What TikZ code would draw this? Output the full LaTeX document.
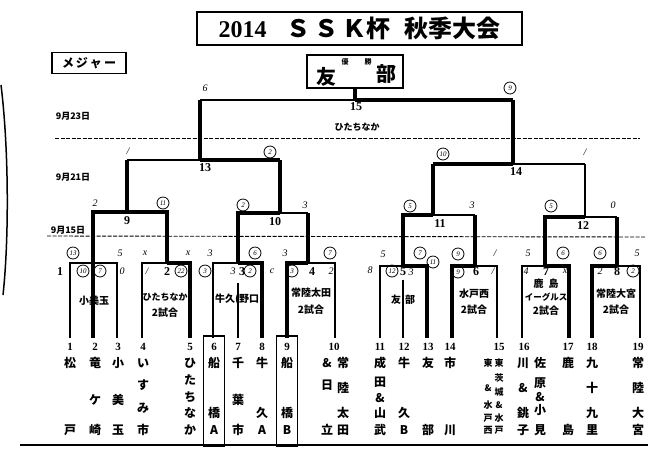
\documentclass[tikz,border=0pt]{standalone}
\usepackage{fontspec}
\setmainfont{Liberation Serif}
\newfontfamily\jp{Noto Sans CJK JP}
\begin{document}
\begin{tikzpicture}[x=1pt,y=-1pt,
  lnthin/.style={line width=1.2pt},
  lnmed/.style={line width=2pt},
  lnwin/.style={line width=3.2pt},
  sepline/.style={line width=0.9pt, dash pattern=on 4pt off 1.5pt},
  tnum/.style={font=\bfseries\fontsize{11}{11}\selectfont, inner sep=0},
  mlab/.style={font=\bfseries\fontsize{12}{12}\selectfont, inner sep=0},
  tch/.style={font=\jp\bfseries\fontsize{12}{12}\selectfont, inner sep=0},
  tchs/.style={font=\jp\bfseries\fontsize{9}{9}\selectfont, inner sep=0},
  hnd/.style={font=\itshape\fontsize{10}{10}\selectfont, inner sep=0},
  cir/.style={circle, draw, line width=0.8pt, inner sep=0.2pt, minimum size=12pt, font=\itshape\fontsize{7}{7}\selectfont},
  lbl/.style={font=\jp\bfseries\fontsize{10}{10}\selectfont, inner sep=0.5pt},
  datelbl/.style={font=\jp\bfseries\fontsize{9}{9}\selectfont, inner sep=0}]
\useasboundingbox (0,0) rectangle (667,451);
\fill[white] (0,0) rectangle (667,451);

% title
\node[draw, line width=1.3pt, minimum width=325pt, minimum height=33pt, inner sep=0] (title) at (359.5,28.5) {};
\node[font=\bfseries\fontsize{24}{24}\selectfont, inner sep=0] (titletxt) at (title.center) {2014\hspace{20pt}{\jp\bfseries Ｓ\hspace{4pt}Ｓ\hspace{4pt}Ｋ杯\hspace{14pt}秋季大会}};

% major label
\node[draw, line width=1.2pt, minimum width=74pt, minimum height=21pt, inner sep=0] (major) at (89,63) {};
\node[font=\jp\bfseries\fontsize{12}{12}\selectfont, inner sep=0] (majortxt) at (major.center) {メ\,ジ\,ャ\,ー};

% champion box
\node[draw, line width=1.3pt, minimum width=96pt, minimum height=33pt, inner sep=0] (champ) at (355,71.5) {};
\node[font=\jp\bfseries\fontsize{20}{20}\selectfont, inner sep=0] (cy) at (326,77) {友};
\node[font=\jp\bfseries\fontsize{20}{20}\selectfont, inner sep=0] (cb) at (386,74) {部};
\node[font=\jp\bfseries\fontsize{7}{7}\selectfont, inner sep=0] (cw1) at (345,62) {優};
\node[font=\jp\bfseries\fontsize{7}{7}\selectfont, inner sep=0] (cw2) at (368,62) {勝};

% dates and separators
\node[datelbl] (d23) at (73,116) {9月23日};
\node[datelbl] (d21) at (73,177) {9月21日};
\node[datelbl] (d15) at (68,230) {9月15日};
\coordinate (s1a) at (55,138); \coordinate (s1b) at (640,138);
\coordinate (s2a) at (47,236); \coordinate (s2b) at (646,237);
\draw[sepline] (s1a) -- (s1b);
\draw[sepline] (s2a) -- (s2b);

% team feet
\foreach \i/\x in {1/70,2/93,3/117,4/142,5/190,6/213,7/238,8/262,9/287,10/335,11/380,12/403,13/427,14/452,15/497,16/522,17/569,18/592,19/640}
  \coordinate (f\i) at (\x,338);

% match junctions
\coordinate (c2) at (167,263); \coordinate (c3) at (238,263); \coordinate (c4) at (308,263);
\coordinate (c5) at (403,266); \coordinate (c6) at (475,266); \coordinate (c7) at (545,266); \coordinate (c8) at (617,266);
\coordinate (j9) at (127,212); \coordinate (j10) at (280,213); \coordinate (j11) at (433,215); \coordinate (j12) at (585,217);
\coordinate (j13) at (200,160); \coordinate (j14) at (513,164); \coordinate (j15) at (355,100);

% box labels (drawn before lines)
\node[lbl] (l1) at (94,301) {小美玉};
\node[lbl, font=\jp\bfseries\fontsize{9}{9}\selectfont] (l2a) at (165,297) {ひたちなか};
\node[lbl] (l2b) at (165,313) {2試合};
\node[lbl, fill=white] (l3) at (237,299) {牛久(野口};
\node[lbl] (l4a) at (311,293) {常陸太田};
\node[lbl] (l4b) at (311,310) {2試合};
\node[lbl, fill=white] (l5) at (403,300) {友\hspace{4pt}部};
\node[lbl] (l6a) at (474,294) {水戸西};
\node[lbl] (l6b) at (474,310) {2試合};
\node[lbl] (l7a) at (546,284) {鹿\hspace{5pt}島};
\node[lbl, font=\jp\bfseries\fontsize{8.5}{8.5}\selectfont] (l7b) at (546,297) {イーグルス};
\node[lbl] (l7c) at (546,311) {2試合};
\node[lbl] (l8a) at (616,294) {常陸大宮};
\node[lbl] (l8b) at (616,310) {2試合};

% first round boxes
\draw[lnthin] (f1) -- (f1|-c2) -- (f3|-c2) -- (f3);
\draw[lnthin] (f4) -- (f4|-c2) -- (c2);
\draw[lnwin] (c2) -- (f5|-c2) -- (f5);
\draw[lnthin] (f6) -- (f6|-c3) -- (c3);
\draw[lnwin] (c3) -- (f8|-c3) -- (f8);
\draw[lnthin] (238,283) -- (f7);
\draw[lnthin] (c4) -- (f10|-c4) -- (f10);
\draw[lnwin] (c4) -- (f9|-c4) -- (f9);
\draw[lnthin] (f11) -- (f11|-c5) -- (c5);
\draw[lnwin] (c5) -- (f13|-c5) -- (f13);
\draw[lnthin] (403,280) -- (f12);
\draw[lnthin] (c6) -- (f15|-c6) -- (f15);
\draw[lnwin] (c6) -- (f14|-c6) -- (f14);
\draw[lnthin] (f16) -- (f16|-c7) -- (c7);
\draw[lnwin] (c7) -- (f17|-c7) -- (f17);
\draw[lnthin] (c8) -- (f19|-c8) -- (f19);
\draw[lnwin] (c8) -- (f18|-c8) -- (f18);

% second round
\draw[lnwin] (f2) -- (f2|-j9) -- (c2|-j9) -- (c2);
\draw[lnwin] (j9) -- (j9|-j13);
\draw[lnwin] (c3) -- (c3|-j10) -- (j10);
\draw[lnthin] (j10) -- (c4|-j10);
\draw[lnwin] (c4|-j10) -- (c4);
\draw[lnwin] (j10) -- (j10|-j13);
\draw[lnwin] (c5) -- (c5|-j11) -- (j11);
\draw[lnthin] (j11) -- (c6|-j11);
\draw[lnwin] (c6|-j11) -- (c6);
\draw[lnwin] (j11) -- (j11|-j14);
\draw[lnwin] (c7) -- (c7|-j12) -- (j12);
\draw[lnthin] (j12) -- (c8|-j12);
\draw[lnwin] (c8|-j12) -- (c8);
\draw[lnmed] (j12) -- (j12|-j14);

% third round
\draw[lnthin] (j9|-j13) -- (j13);
\draw[lnwin] (j13) -- (j10|-j13);
\draw[lnwin] (j13) -- (j13|-j15);
\draw[lnwin] (j11|-j14) -- (j14);
\draw[lnthin] (j14) -- (j12|-j14);
\draw[lnwin] (j14) -- (j14|-j15);

% final
\draw[lnmed] (j13|-j15) -- (j15);
\draw[lnwin] (j15) -- (j14|-j15);
\draw[lnwin] (j15) -- (champ.south);

% match numbers
\foreach \x/\y/\t [count=\k] in {60/272/1,167/272/2,242/272/3,312/272/4,403/272/5,476/272/6,546/272/7,617/272/8,127/221/9,275/222/10,440/224/11,583/226/12,205/168/13,516/172/14,356/107/15}
  \node[mlab] (mn\k) at (\x,\y) {\t};
\node[font=\jp\bfseries\fontsize{9}{9}\selectfont, inner sep=0] (venue) at (357,127) {ひたちなか};

% handwritten scores
\foreach \x/\y/\t [count=\k] in {205/88/6,128/151/{/},95/203/2,305/205/3,585/152/{/},472/205/3,613/205/0,120/253/5,122/271/0,145/253/x,188/253/x,147/271/{/},210/253/3,233/271/3,272/271/c,285/253/3,331/271/2,383/254/5,370/270/8,411/272/3,495/253/{/},493/271/{/},528/253/5,526/271/4,565/271/x,600/271/2,637/253/5}
  \node[hnd] (hw\k) at (\x,\y) {\t};
\foreach \x/\y/\t [count=\k] in {510/88/9,270/152/2,443/154/10,163/203/11,243/205/2,410/206/5,551/206/5,73/253/13,83/271/10,100/271/7,181/271/22,205/271/3,250/271/2,255/253/6,292/271/3,330/253/7,392/271/12,420/253/7,433/262/11,458/254/9,458/272/9,563/253/6,600/253/6,633/271/2}
  \node[cir] (ci\k) at (\x,\y) {\t};

% team numbers
\foreach \i/\x in {1/70,2/95,3/118,4/143,5/190,6/214,7/238,8/262,9/287,10/334,11/380,12/404,13/428,14/450,15/499,16/524,17/568,18/592,19/638}
  \node[tnum] (n\i) at (\x,347) {\i};

% boxed teams
\node[draw, line width=1.5pt, minimum width=21pt, minimum height=110pt, inner sep=0] (bx6) at (214,391) {};
\node[draw, line width=1.5pt, minimum width=21pt, minimum height=110pt, inner sep=0] (bx9) at (287,391) {};

% team names
\newcommand\tcol[4]{\foreach \yy/\cc [count=\kk] in {#4} \node[#3] (tc#1-\kk) at (#2,\yy) {\cc};}
\tcol{1}{70}{tch}{363/松,430/戸}
\tcol{2}{95}{tch}{363/竜,400/ケ,430/崎}
\tcol{3}{118}{tch}{363/小,400/美,430/玉}
\tcol{4}{143}{tch}{363/い,385/す,408/み,430/市}
\tcol{5}{190}{tch}{363/ひ,380/た,397/ち,413/な,430/か}
\tcol{6}{214}{tch}{363/船,413/橋,430/A}
\tcol{7}{238}{tch}{363/千,400/葉,430/市}
\tcol{8}{262}{tch}{363/牛,413/久,430/A}
\tcol{9}{287}{tch}{363/船,413/橋,430/B}
\tcol{10a}{327}{tch}{363/\&,385/日,430/立}
\tcol{10b}{343}{tch}{363/常,388/陸,413/太,430/田}
\tcol{11}{380}{tch}{363/成,382/田,398/\&,413/山,430/武}
\tcol{12}{404}{tch}{363/牛,413/久,430/B}
\tcol{13}{428}{tch}{363/友,430/部}
\tcol{14}{450}{tch}{363/市,430/川}
\tcol{15a}{488}{tchs}{363/東,388/\&,405/水,418/戸,430/西}
\tcol{15b}{499}{tchs}{363/東,378/茨,392/城,405/\&,418/水,430/戸}
\tcol{16a}{523}{tch}{363/川,388/\&,413/銚,430/子}
\tcol{16b}{540}{tch}{363/佐,383/原,397/\&,410/小,430/見}
\tcol{17}{568}{tch}{363/鹿,430/島}
\tcol{18}{592}{tch}{363/九,388/十,413/九,430/里}
\tcol{19}{638}{tch}{363/常,388/陸,413/大,430/宮}

% bottom rule and scan edge
\coordinate (ra) at (20,445); \coordinate (rb) at (648,445);
\draw[line width=1.6pt] (ra) -- (rb);
\coordinate (ea) at (1,85); \coordinate (eb) at (3,295);
\draw[line width=1.5pt] (ea) .. controls (9,150) and (9,240) .. (eb);
\end{tikzpicture}
\end{document}
